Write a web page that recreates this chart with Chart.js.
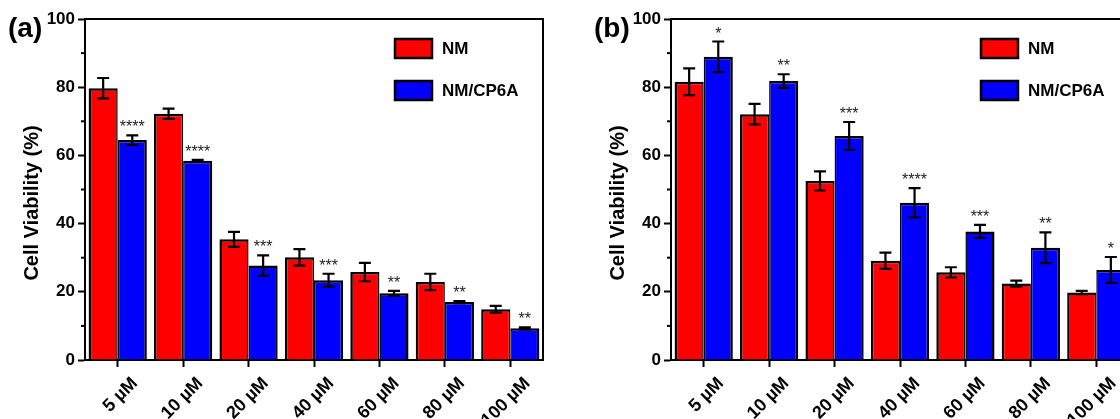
<!DOCTYPE html>
<html>
<head>
<meta charset="utf-8">
<script src="https://cdn.jsdelivr.net/npm/chart.js@4.4.1/dist/chart.umd.min.js"></script>
<style>
  html, body { margin: 0; padding: 0; background: #fff; overflow: hidden; width: 1120px; height: 419px; }
  canvas { position: absolute; top: 0; }
  #chartA { left: 0; }
  #chartB { left: 586px; }
</style>
</head>
<body>
<canvas id="chartA" width="560" height="419"></canvas>
<canvas id="chartB" width="560" height="419"></canvas>
<script>
// concentrations on the x axis
const categories = ['5 µM', '10 µM', '20 µM', '40 µM', '60 µM', '80 µM', '100 µM'];
const seriesNames = ['NM', 'NM/CP6A'];
const yTicks = [0, 20, 40, 60, 80, 100];
const minorTicks = [10, 30, 50, 70, 90];

// panel (a)
const nmA = [79.7, 72.2, 35.4, 30.1, 25.8, 22.9, 14.9];
const nmErrA = [3.0, 1.5, 2.2, 2.4, 2.7, 2.4, 1.0];
const cp6aA = [64.5, 58.4, 27.7, 23.4, 19.6, 17.0, 9.3];
const cp6aErrA = [1.4, 0.3, 3.0, 1.9, 0.7, 0.3, 0.3];
const starsA = ['****', '****', '***', '***', '**', '**', '**'];

// panel (b)
const nmB = [81.6, 72.1, 52.5, 29.1, 25.7, 22.4, 19.8];
const nmErrB = [3.9, 3.0, 2.8, 2.4, 1.5, 0.9, 0.5];
const cp6aB = [88.9, 81.8, 65.7, 46.1, 37.7, 32.9, 26.4];
const cp6aErrB = [4.5, 2.0, 4.1, 4.3, 1.9, 4.5, 3.8];
const starsB = ['*', '**', '***', '****', '***', '**', '*'];

const FONT = "'Liberation Sans', Arial, Helvetica, sans-serif";
const RED = '#ff0000';
const BLUE = '#0000ff';

function makePanel(canvasId, letter, nm, nmErr, cp, cpErr, stars) {
  const errors = [nmErr, cpErr];

  // error bars, significance stars, frame, legend and labels
  const extras = {
    id: 'extras_' + canvasId,
    afterDatasetsDraw(chart) {
      const ctx = chart.ctx;
      const y = chart.scales.y;
      ctx.save();
      ctx.strokeStyle = '#000';
      ctx.lineWidth = 2.2;
      chart.data.datasets.forEach((ds, d) => {
        const meta = chart.getDatasetMeta(d);
        meta.data.forEach((bar, j) => {
          const v = ds.data[j];
          const e = errors[d][j];
          const top = y.getPixelForValue(v + e);
          const bot = y.getPixelForValue(v - e);
          ctx.beginPath();
          ctx.moveTo(bar.x, top);
          ctx.lineTo(bar.x, bot);
          ctx.moveTo(bar.x - 6, top);
          ctx.lineTo(bar.x + 6, top);
          ctx.moveTo(bar.x - 6, bot);
          ctx.lineTo(bar.x + 6, bot);
          ctx.stroke();
          if (d === 1) {
            ctx.fillStyle = '#222';
            ctx.font = '16px ' + FONT;
            ctx.textAlign = 'center';
            ctx.textBaseline = 'alphabetic';
            ctx.fillText(stars[j], bar.x, top - 3);
          }
        });
      });
      ctx.restore();
    },
    afterDraw(chart) {
      const ctx = chart.ctx;
      const a = chart.chartArea;
      const y = chart.scales.y;
      ctx.save();
      // top and right frame
      ctx.strokeStyle = '#000';
      ctx.lineWidth = 2;
      ctx.beginPath();
      ctx.moveTo(a.left - 1, a.top);
      ctx.lineTo(a.right, a.top);
      ctx.lineTo(a.right, a.bottom);
      ctx.stroke();
      // minor ticks
      minorTicks.forEach(v => {
        const py = y.getPixelForValue(v);
        ctx.beginPath();
        ctx.moveTo(a.left - 4, py);
        ctx.lineTo(a.left, py);
        ctx.stroke();
      });
      // legend
      chart.data.datasets.forEach((ds, d) => {
        const bx = a.right - 148;
        const by = a.top + 20 + d * 42;
        ctx.fillStyle = ds.backgroundColor;
        ctx.fillRect(bx, by, 37, 19);
        ctx.lineWidth = 2.5;
        ctx.strokeRect(bx, by, 37, 19);
        ctx.fillStyle = '#000';
        ctx.font = 'bold 17px ' + FONT;
        ctx.textAlign = 'left';
        ctx.textBaseline = 'middle';
        ctx.fillText(ds.label, bx + 47, by + 10);
      });
      // panel letter
      ctx.fillStyle = '#000';
      ctx.font = 'bold 28px ' + FONT;
      ctx.textAlign = 'left';
      ctx.textBaseline = 'middle';
      ctx.fillText(letter, 8, 29);
      // y title
      ctx.translate(32, 203);
      ctx.rotate(-Math.PI / 2);
      ctx.font = 'bold 20px ' + FONT;
      ctx.textAlign = 'center';
      ctx.fillText('Cell Viability (%)', 0, 0);
      ctx.restore();
    }
  };

  return new Chart(document.getElementById(canvasId), {
    type: 'bar',
    data: {
      labels: categories,
      datasets: [
        {
          label: seriesNames[0],
          data: nm,
          backgroundColor: RED,
          borderColor: '#000',
          borderWidth: { top: 2.5, left: 2.5, right: 1.5, bottom: 0 },
          barPercentage: 1,
          categoryPercentage: 0.89
        },
        {
          label: seriesNames[1],
          data: cp,
          backgroundColor: BLUE,
          borderColor: '#000',
          borderWidth: { top: 2.5, left: 1.5, right: 2.5, bottom: 0 },
          barPercentage: 1,
          categoryPercentage: 0.89
        }
      ]
    },
    options: {
      responsive: false,
      animation: false,
      layout: { padding: { top: 19, right: 17, left: 0, bottom: 0 } },
      plugins: {
        legend: { display: false },
        tooltip: { enabled: false }
      },
      scales: {
        x: {
          offset: true,
          grid: { display: true, offset: false, drawOnChartArea: false, tickLength: 7, tickWidth: 2, tickColor: '#000' },
          border: { display: true, color: '#000', width: 2 },
          ticks: {
            autoSkip: false,
            minRotation: 45,
            maxRotation: 45,
            labelOffset: 17,
            padding: 6,
            color: '#000',
            font: { family: FONT, size: 18, weight: 'bold' }
          },
          afterFit(s) {
            s.height = 59;
            s.paddingLeft = 0;
            s.paddingRight = 0;
          }
        },
        y: {
          min: 0,
          max: 100,
          afterBuildTicks(s) { s.ticks = yTicks.map(v => ({ value: v })); },
          grid: { display: true, drawOnChartArea: false, tickLength: 7, tickWidth: 2, tickColor: '#000' },
          border: { display: true, color: '#000', width: 2 },
          ticks: {
            padding: 3,
            color: '#000',
            font: { family: FONT, size: 17, weight: 'bold' }
          },
          afterFit(s) {
            s.width = 85;
            s.paddingTop = 0;
            s.paddingBottom = 0;
          }
        }
      }
    },
    plugins: [extras]
  });
}

makePanel('chartA', '(a)', nmA, nmErrA, cp6aA, cp6aErrA, starsA);
makePanel('chartB', '(b)', nmB, nmErrB, cp6aB, cp6aErrB, starsB);
</script>
</body>
</html>
